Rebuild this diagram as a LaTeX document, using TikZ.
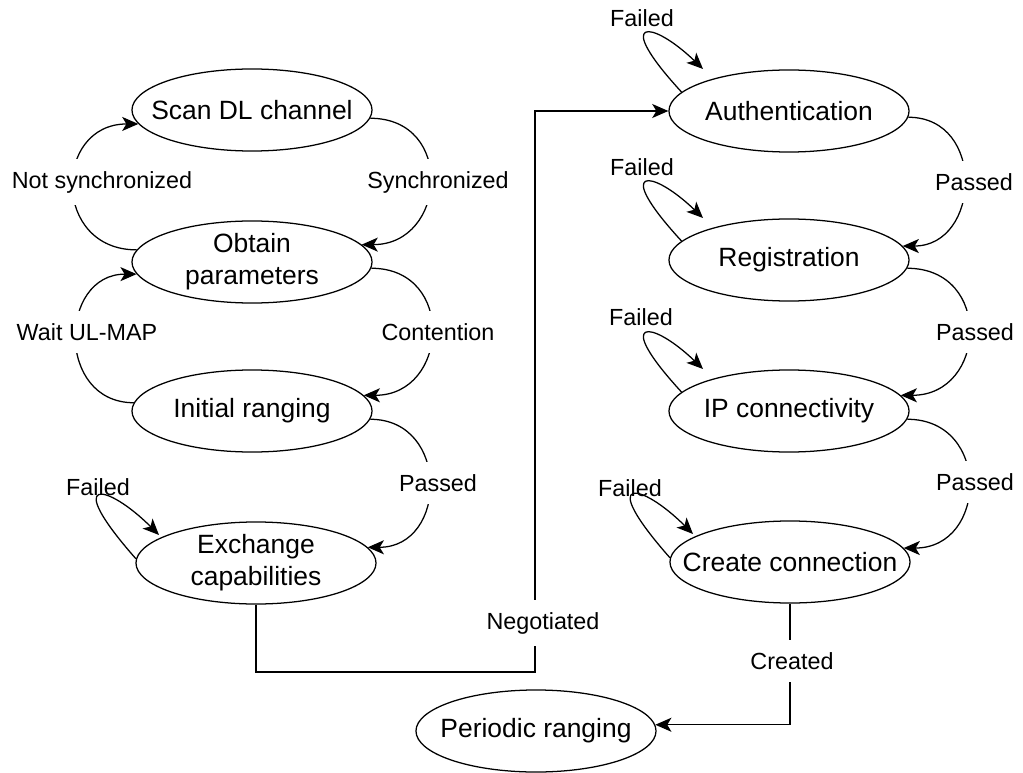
\documentclass[tikz,border=0pt]{standalone}
\usepackage{fontspec}
\setmainfont{Liberation Sans}
\usetikzlibrary{calc, arrows.meta, shapes.geometric}

\tikzset{
  stato/.style={ellipse, draw, line width=0.9pt, minimum width=6cm, minimum height=2.05cm,
    inner sep=-3cm, align=center, font=\fontsize{18.8}{22.8}\selectfont},
  freccia/.style={line width=0.9pt, -{Stealth[length=11.5pt, width=10pt, inset=3pt]}},
  etichetta/.style={font=\fontsize{16.6}{20}\selectfont, inner sep=0pt},
  taglio/.style={etichetta, fill=white, inner xsep=2pt, inner ysep=0.3cm}
}

\begin{document}
\begin{tikzpicture}[x=0.025cm, y=-0.025cm]
  \useasboundingbox (0,0) rectangle (1023,773);

  % stati a sinistra
  \node[stato] (scan) at (252,110) {Scan DL channel};
  \node[stato] (obt)  at (252,262) {Obtain\\parameters};
  \node[stato] (init) at (252,411) {Initial ranging};
  \node[stato] (exch) at (256,563) {Exchange\\capabilities};

  % stati a destra
  \node[stato] (auth) at (789,111) {Authentication};
  \node[stato] (reg)  at (789,260) {Registration};
  \node[stato] (ip)   at (789,411) {IP connectivity};
  \node[stato] (conn) at (790,562) {Create connection};

  % stato finale
  \node[stato] (per) at (536,731) {Periodic ranging};

  % transizioni colonna sinistra
  \draw[freccia] (scan.-4) .. controls +(85,0) and +(85,0) .. (obt.9)
    node[taglio] at (438,182) {Synchronized};
  \draw[freccia] (obt.174) .. controls +(-85,0) and +(-85,0) .. (scan.187)
    node[taglio] at (102,182) {Not synchronized};
  \draw[freccia] (obt.-3) .. controls +(85,0) and +(85,0) .. (init.8)
    node[taglio] at (438,332) {Contention};
  \draw[freccia] (init.176) .. controls +(-78,0) and +(-78,0) .. (obt.186)
    node[taglio] at (87,332) {Wait UL-MAP};
  \draw[freccia] (init.-4) .. controls +(80,0) and +(80,0) .. (exch.8)
    node[taglio] at (438,483) {Passed};
  \draw[freccia] (exch.178) .. controls +(-75,-85) and +(-52,-52) .. ($(exch)+(-97,-28)$)
    node[etichetta] at (98,487) {Failed};

  % verso la colonna destra
  \coordinate (nb) at (535,672);
  \draw[freccia] (exch.south) |- (nb) -- (nb |- auth.west) -- (auth.west)
    node[taglio] at (543,623) {Negotiated};

  % transizioni colonna destra
  \draw[freccia] (auth.-3) .. controls +(78,0) and +(78,0) .. (reg.7)
    node[taglio] at (974,182) {Passed};
  \draw[freccia] (reg.-4) .. controls +(86,0) and +(86,0) .. (ip.8)
    node[taglio] at (975,332) {Passed};
  \draw[freccia] (ip.-4) .. controls +(84,0) and +(84,0) .. (conn.7)
    node[taglio] at (975,482) {Passed};

  % cicli di errore
  \draw[freccia] (auth.170) .. controls +(-70,-76) and +(-52,-50) .. ($(auth)+(-86,-42)$)
    node[etichetta] at (642,18) {Failed};
  \draw[freccia] (reg.170) .. controls +(-70,-76) and +(-52,-50) .. ($(reg)+(-86,-42)$)
    node[etichetta] at (642,167) {Failed};
  \draw[freccia] (ip.170) .. controls +(-70,-76) and +(-52,-50) .. ($(ip)+(-86,-42)$)
    node[etichetta] at (641,317) {Failed};
  \draw[freccia] (conn.178) .. controls +(-75,-85) and +(-52,-52) .. ($(conn)+(-97,-28)$)
    node[etichetta] at (630,488) {Failed};

  % chiusura
  \draw[freccia] (conn.south) |- (per.3)
    node[taglio] at (792,661) {Created};
\end{tikzpicture}
\end{document}
